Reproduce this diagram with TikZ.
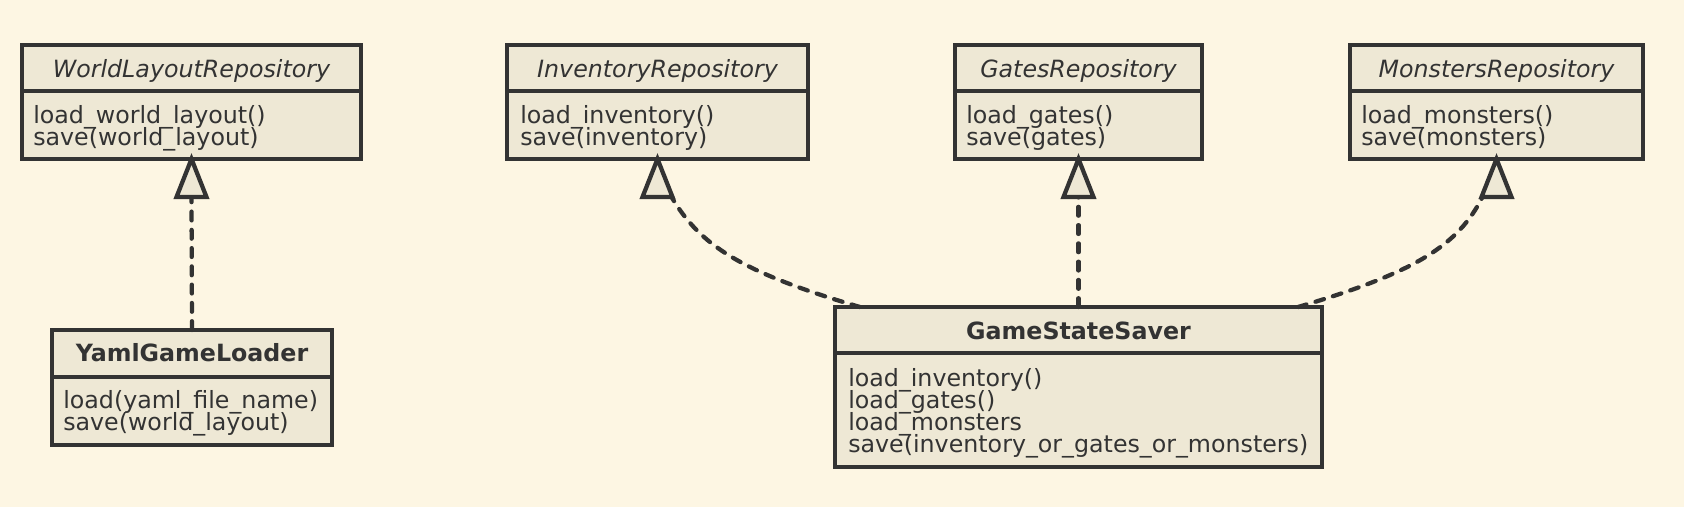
\documentclass[tikz,border=0pt]{standalone}
\usepackage{fontspec}
\setmainfont{DejaVu Sans}
\usetikzlibrary{fit,calc}
\definecolor{bg}{HTML}{FDF6E3}
\definecolor{boxfill}{HTML}{EEE8D5}
\definecolor{ink}{HTML}{333333}
\tikzset{
  cls/.style={draw=ink, fill=boxfill, line width=3.2pt, inner sep=0pt, outer sep=0pt},
  divider/.style={draw=ink, line width=3.2pt},
  ttl/.style={anchor=base, inner sep=0pt, text=ink, font=\fontsize{17.8pt}{21pt}\selectfont},
  meth/.style={anchor=base west, inner sep=0pt, text=ink, font=\fontsize{17.8pt}{21pt}\selectfont},
  dep/.style={draw=ink, line width=3.2pt, line cap=round, dash pattern=on 6.6pt off 7.1pt},
  gentri/.style={draw=ink, fill=boxfill, line width=3.2pt, line join=miter},
}
\begin{document}
\begin{tikzpicture}[x=0.75pt,y=-0.75pt]
\fill[bg] (0,0) rectangle (1684,507);
\useasboundingbox (0,0) rectangle (1684,507);

% WorldLayoutRepository
\node[cls, fit={(22,45) (361,159)}] (wlr) {};
\draw[divider] (wlr.west |- 0,91) -- (wlr.east |- 0,91);
\node[ttl] (wlrt) at (wlr.north |- 0,77) {\itshape WorldLayoutRepository};
\node[meth] (wlrm1) at (33,123) {load\_world\_layout()};
\node[meth] (wlrm2) at (33,145) {save(world\_layout)};

% InventoryRepository
\node[cls, fit={(507,45) (808,159)}] (inv) {};
\draw[divider] (inv.west |- 0,91) -- (inv.east |- 0,91);
\node[ttl] (invt) at (inv.north |- 0,77) {\itshape InventoryRepository};
\node[meth] (invm1) at (520,123) {load\_inventory()};
\node[meth] (invm2) at (520,145) {save(inventory)};

% GatesRepository
\node[cls, fit={(955,45) (1202,159)}] (gat) {};
\draw[divider] (gat.west |- 0,91) -- (gat.east |- 0,91);
\node[ttl] (gatt) at (gat.north |- 0,77) {\itshape GatesRepository};
\node[meth] (gatm1) at (966,123) {load\_gates()};
\node[meth] (gatm2) at (966,145) {save(gates)};

% MonstersRepository
\node[cls, fit={(1350,45) (1643,159)}] (mon) {};
\draw[divider] (mon.west |- 0,91) -- (mon.east |- 0,91);
\node[ttl] (mont) at (mon.north |- 0,77) {\itshape MonstersRepository};
\node[meth] (monm1) at (1361,123) {load\_monsters()};
\node[meth] (monm2) at (1361,145) {save(monsters)};

% YamlGameLoader
\node[cls, fit={(52,330) (332,445)}] (ygl) {};
\draw[divider] (ygl.west |- 0,377) -- (ygl.east |- 0,377);
\node[ttl] (yglt) at (ygl.north |- 0,361) {\bfseries YamlGameLoader};
\node[meth] (yglm1) at (63,408) {load(yaml\_file\_name)};
\node[meth] (yglm2) at (63,430) {save(world\_layout)};

% GameStateSaver
\node[cls, fit={(835,307) (1322,467)}] (gss) {};
\draw[divider] (gss.west |- 0,353) -- (gss.east |- 0,353);
\node[ttl] (gsst) at (gss.north |- 0,339) {\bfseries GameStateSaver};
\node[meth] (gssm1) at (848,386) {load\_inventory()};
\node[meth] (gssm2) at (848,408) {load\_gates()};
\node[meth] (gssm3) at (848,430) {load\_monsters};
\node[meth] (gssm4) at (848,452) {save(inventory\_or\_gates\_or\_monsters)};

% connectors
\coordinate (wlrb) at ($(wlr.south)+(0,38)$);
\coordinate (invb) at ($(inv.south)+(14,38)$);
\coordinate (gatb) at ($(gat.south)+(0,38)$);
\coordinate (monb) at ($(mon.south)+(-14,38)$);
\coordinate (gssl) at ($(gss.north west)+(25,0)$);
\coordinate (gssr) at ($(gss.north east)+(-24,0)$);

\draw[dep] (ygl.north) -- (wlrb);
\draw[dep] (gss.north) -- (gatb);
\draw[dep] (gssl) .. controls (740,272) and (700,245) .. (invb);
\draw[dep] (gssr) .. controls (1417,272) and (1458,245) .. (monb);

\draw[gentri] (wlr.south) -- ++(-15,38) -- ++(30,0) -- cycle;
\draw[gentri] (inv.south) -- ++(-15,38) -- ++(30,0) -- cycle;
\draw[gentri] (gat.south) -- ++(-15,38) -- ++(30,0) -- cycle;
\draw[gentri] (mon.south) -- ++(-15,38) -- ++(30,0) -- cycle;
\end{tikzpicture}
\end{document}
